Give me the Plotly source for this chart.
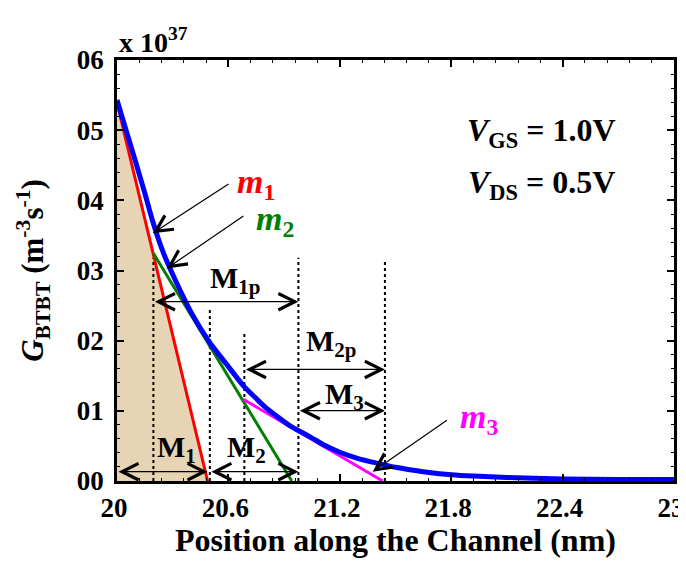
import plotly.graph_objects as go

# ---- data (y in units of 1e37 m^-3 s^-1) ----
blue_x = [20.0, 20.05, 20.10, 20.15, 20.19, 20.25, 20.32, 20.40, 20.50, 20.60, 20.68, 20.80, 20.93, 21.04,
          21.11, 21.20, 21.30, 21.40, 21.50, 21.65, 21.80, 21.92, 22.10, 22.40, 22.70, 23.0]
blue_y = [0.543, 0.499, 0.455, 0.410, 0.372, 0.325, 0.283, 0.240, 0.197, 0.163, 0.136, 0.105, 0.079, 0.063,
          0.052, 0.041, 0.032, 0.0255, 0.0195, 0.0133, 0.009, 0.007, 0.005, 0.003, 0.002, 0.002]

m1_x = [20.0, 20.488]
m1_y = [0.539, 0.0]
m2_x = [20.196, 20.941]
m2_y = [0.3245, 0.0]
m3_x = [20.68, 21.431]
m3_y = [0.1164, 0.0]

vline_x = [20.196, 20.50, 20.686, 20.977, 21.443]
vline_top = [0.318, 0.2465, 0.211, 0.318, 0.315]

span_names = ["M<sub>1p</sub>", "M<sub>2p</sub>", "M<sub>3</sub>", "M<sub>1</sub>", "M<sub>2</sub>"]
span_start = [20.196, 20.686, 20.977, 20.0, 20.50]
span_end = [20.977, 21.443, 21.443, 20.488, 20.977]
span_y = [0.2555, 0.159, 0.1002, 0.0133, 0.0133]
span_label_x = [20.636, 21.153, 21.223, 20.323, 20.695]
span_label_y = [0.286, 0.196, 0.121, 0.045, 0.046]

slope_names = ["m", "m", "m"]
slope_subs = ["1", "2", "3"]
slope_colors = ["#ff0000", "#008000", "#ff00ff"]
slope_label_x = [20.749, 20.851, 21.95]
slope_label_y = [0.423, 0.37, 0.088]
slope_tail_x = [20.609, 20.689, 21.785]
slope_tail_y = [0.4247, 0.379, 0.0879]
slope_tip_x = [20.192, 20.268, 21.377]
slope_tip_y = [0.353, 0.303, 0.0133]

x_tickvals = [20, 20.6, 21.2, 21.8, 22.4, 23]
x_ticktext = ["20", "20.6", "21.2", "21.8", "22.4", "23"]
y_tickvals = [0, 0.1, 0.2, 0.3, 0.4, 0.5, 0.6]
y_ticktext = ["00", "01", "02", "03", "04", "05", "06"]

FONT = "Times New Roman, Liberation Serif, DejaVu Serif, serif"

fig = go.Figure()

# shaded triangle under m1
fig.add_trace(go.Scatter(x=[m1_x[0]] + m1_x, y=[0.0] + m1_y, fill="toself",
                         fillcolor="#E6D4B4", line=dict(width=0), mode="lines",
                         hoverinfo="skip", showlegend=False))

# dotted verticals
vx, vy = [], []
for x, t in zip(vline_x, vline_top):
    vx += [x, x, None]
    vy += [0, t, None]
fig.add_trace(go.Scatter(x=vx, y=vy, mode="lines",
                         line=dict(color="black", width=2, dash="dot"),
                         showlegend=False, hoverinfo="skip"))

fig.add_trace(go.Scatter(x=m1_x, y=m1_y, mode="lines", line=dict(color="#ff0000", width=3), showlegend=False))
fig.add_trace(go.Scatter(x=m2_x, y=m2_y, mode="lines", line=dict(color="#008000", width=3), showlegend=False))
fig.add_trace(go.Scatter(x=m3_x, y=m3_y, mode="lines", line=dict(color="#ff00ff", width=3), showlegend=False))
fig.add_trace(go.Scatter(x=blue_x, y=blue_y, mode="lines",
                         line=dict(color="#0000ff", width=5, shape="spline", smoothing=0.5),
                         showlegend=False))

annotations = []
# double-headed span arrows + labels
for name, xs, xe, yv, lx, ly in zip(span_names, span_start, span_end, span_y, span_label_x, span_label_y):
    annotations.append(dict(x=xe, y=yv, ax=xs, ay=yv, xref="x", yref="y", axref="x", ayref="y",
                            text="", showarrow=True, arrowside="end+start",
                            arrowhead=5, startarrowhead=5, arrowsize=2.7, startarrowsize=2.7,
                            arrowwidth=1.2, arrowcolor="black", standoff=0, startstandoff=0))
    annotations.append(dict(x=lx, y=ly, xref="x", yref="y", text="<b>" + name + "</b>",
                            showarrow=False, font=dict(family=FONT, size=30, color="black")))

# slope labels and arrows
for n, s, c, lx, ly, tx, ty, px, py in zip(slope_names, slope_subs, slope_colors, slope_label_x, slope_label_y,
                                           slope_tail_x, slope_tail_y, slope_tip_x, slope_tip_y):
    annotations.append(dict(x=px, y=py, ax=tx, ay=ty, xref="x", yref="y", axref="x", ayref="y",
                            text="", showarrow=True, arrowhead=5, arrowsize=2.7, arrowwidth=1.2,
                            arrowcolor="black", standoff=0))
    annotations.append(dict(x=lx, y=ly, xref="x", yref="y",
                            text="<b><i>" + n + "</i><sub>" + s + "</sub></b>",
                            showarrow=False, font=dict(family=FONT, size=34, color=c)))

annotations.append(dict(x=22.289, y=0.497, xref="x", yref="y",
                        text="<b><i>V</i><sub>GS</sub> = 1.0V</b>", showarrow=False,
                        font=dict(family=FONT, size=32, color="black")))
annotations.append(dict(x=22.289, y=0.422, xref="x", yref="y",
                        text="<b><i>V</i><sub>DS</sub> = 0.5V</b>", showarrow=False,
                        font=dict(family=FONT, size=32, color="black")))
annotations.append(dict(x=0.0, y=1.0, xref="paper", yref="paper", xanchor="left", yanchor="bottom",
                        text="<b>x 10<sup>37</sup></b>", showarrow=False,
                        font=dict(family=FONT, size=28, color="black")))

# page body has an 8px default margin; the figure is sized so the page does not
# overflow the 686x566 window, and the margins put the plot area at
# x 117..674, y 60..481 in the window
fig.update_layout(
    width=678, height=550,
    margin=dict(l=109, r=12, t=52, b=77, autoexpand=False),
    paper_bgcolor="white", plot_bgcolor="white",
    showlegend=False,
    annotations=annotations,
    xaxis=dict(range=[20, 23], tickvals=x_tickvals, ticktext=x_ticktext, automargin=False,
               showline=True, linecolor="black", linewidth=2.5, mirror="ticks",
               ticks="inside", ticklen=7, tickwidth=1.5, tickcolor="black",
               minor=dict(ticks="inside", ticklen=3.5, tick0=20, dtick=0.12, tickcolor="black", tickwidth=1),
               showgrid=False, zeroline=False, ticklabelstandoff=1, ticklabelshift=-3,
               ticklabeloverflow="allow",
               tickfont=dict(family=FONT, size=27, color="black", weight="bold"),
               title=dict(text="<b>Position along the Channel (nm)</b>", standoff=16,
                          font=dict(family=FONT, size=32, color="black"))),
    yaxis=dict(range=[0, 0.6], tickvals=y_tickvals, ticktext=y_ticktext, automargin=False,
               showline=True, linecolor="black", linewidth=2.5, mirror="ticks",
               ticks="inside", ticklen=7, tickwidth=1.5, tickcolor="black",
               minor=dict(ticks="inside", ticklen=3.5, tick0=0, dtick=0.02, tickcolor="black", tickwidth=1),
               showgrid=False, zeroline=False, ticklabelstandoff=5,
               tickfont=dict(family=FONT, size=27, color="black", weight="bold"),
               title=dict(text="<b><i>G</i><sub>BTBT</sub> (m<sup>-3</sup>s<sup>-1</sup>)</b>", standoff=24,
                          font=dict(family=FONT, size=31, color="black"))),
)

fig.write_html("out.html")
